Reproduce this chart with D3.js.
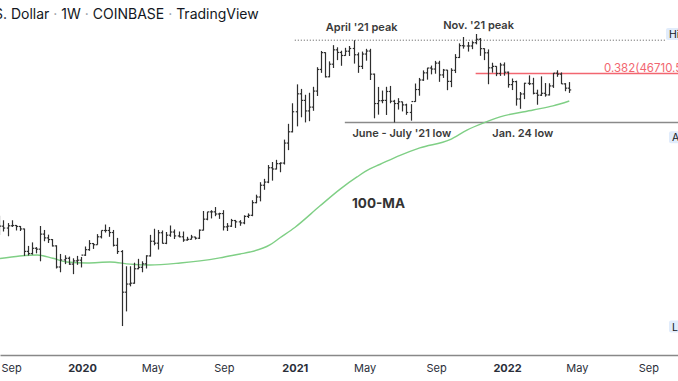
<!DOCTYPE html>
<html><head><meta charset="utf-8">
<script src="https://cdn.jsdelivr.net/npm/d3@7"></script>
<style>html,body{margin:0;padding:0;background:#fff;overflow:hidden}</style>
</head><body>
<svg id="c" width="678" height="381"></svg>
<script>
// ---------- data ----------
const firstWeek = "2019-08-12";
const lastWeek = "2022-04-18";
const opens = [11390,10330,10140,10370,10400,10300,10050,8050,7880,8300,8230,9550,9200,9050,8500,6900,7400,7520,7100,7330,7380,
 7760,8190,8700,8600,9300,9900,9900,9700,8550,8040,5380,5830,5880,6780,6880,7120,7700,8900,8730,9680,8720,9450,9750,9380,9300,9010,9070,9280,9170,9930,11070,11900,11900,11650,11700,10260,10330,10920,10780,10670,11380,11500,13030,13780,15480,15970,18400,18170,19160,19270,23480,26250,
 32000,38200,35800,32260,33500,39250,48600,57400,45200,51200,59000,57500,55800,58200,59800,56200,50100,56600,58300,46400,34700,35700,35800,39100,35500,34700,35300,34250,31780,35400,39850,43800,47000,49300,48800,51750,46050,48300,43200,48200,54700,61500,61300,61300,63300,65500,59700,57300,49400,50100,46700,50800,
 47300,41850,43100,36300,38150,42400,42200,38400,37700,38400,37800,41300,46850,46400,42150,40400];
const highs = [11450,10950,10650,10950,10450,10350,10080,8500,8800,8400,10350,9950,9500,9100,8550,7850,7750,7650,7520,7700,7620,
 8450,9000,8750,9550,9900,10500,10250,9950,9200,8150,6950,6950,7200,7480,7300,7750,9480,10070,9950,9900,9750,10400,10000,9800,9800,9300,9480,9300,10000,12000,11900,12100,12480,11800,12100,10650,11100,10990,10960,11500,11720,13350,14100,15950,16490,18900,19480,19900,19420,24300,28400,34800,
 41950,40100,37850,38600,40950,49700,58350,57600,52650,61800,60500,58500,60200,61300,64900,57500,58000,59600,59600,46650,40900,39450,40950,41300,36000,36600,35350,34650,34500,42300,44700,48150,49400,50500,52900,52950,48850,48400,49200,56550,62900,67000,63750,64300,69000,66300,59900,59250,51950,50200,51900,52100,
 47600,44450,43500,38900,42600,45850,44750,39800,45400,42500,42400,46900,48200,47200,42450,42900];
const lows = [9460,9800,9350,10250,9900,9850,7700,7730,7800,7900,7300,8900,8750,8450,6800,6550,7100,7050,6430,7050,6870,
 7700,8100,8250,8600,9150,9700,9300,8450,7850,3850,4450,5700,5850,6750,6550,6800,7650,8550,8200,8700,8650,9300,9100,9250,8850,8950,9050,9050,9100,9900,10950,11150,11400,11100,9900,9850,10250,10150,10370,10530,11200,11400,12950,13200,14800,15800,16200,18100,17600,19000,21900,26100,
 27700,30300,28800,29150,32300,37400,47000,44900,45000,49300,53300,50400,55600,55500,51500,47000,48800,53000,43800,30000,31100,34800,31000,34800,28800,32700,32100,31050,29300,35300,37500,43400,43950,46300,46600,43000,44700,39600,40800,46900,54400,59700,58000,59400,62300,55600,53300,42000,47100,45500,45600,45700,
 40600,39650,34000,32950,36250,41650,38000,34300,37400,37150,37600,40500,45200,42100,39200,38550];
const closes = [10330,10140,10370,10400,10300,10050,8050,7880,8300,8230,9550,9200,9050,8500,6900,7400,7520,7100,7330,7380,7760,
 8190,8700,8600,9300,9900,9900,9700,8550,8040,5380,5830,5880,6780,6880,7120,7700,8900,8730,9680,8720,9450,9750,9380,9300,9010,9070,9280,9170,9930,11070,11900,11900,11650,11700,10260,10330,10920,10780,10670,11380,11500,13030,13780,15480,15970,18400,18170,19160,19270,23480,26250,32000,
 38200,35800,32260,33500,39250,48600,57400,45200,51200,59000,57500,55800,58200,59800,56200,50100,56600,58300,46400,34700,35700,35800,39100,35500,34700,35300,34250,31780,35400,39850,43800,47000,49300,48800,51750,46050,48300,43200,48200,54700,61500,61300,61300,63300,65500,59700,57300,49400,50100,46700,50800,47300,
 41850,43100,36300,38150,42400,42200,38400,37700,38400,37800,41300,46850,46400,42150,40400,39700];

// 100-week moving average
const maDates = ["2019-08-13","2019-09-16","2019-10-16","2019-11-12","2019-12-06","2020-01-10","2020-02-18","2020-03-24","2020-04-27","2020-06-18","2020-07-22","2020-08-25","2020-09-29","2020-10-16","2020-11-19","2020-12-06","2021-01-01","2021-02-13","2021-03-20","2021-04-18","2021-05-10","2021-05-27","2021-07-01","2021-08-04","2021-09-25","2021-10-24","2021-11-24","2021-12-20","2022-02-15","2022-03-21","2022-04-18"];
const maValues = [7500,7690,7770,7520,7250,7180,7250,7100,7040,7180,7330,7550,7850,8000,8580,9190,10200,12600,14900,16800,18180,19000,20800,22400,24300,26700,28800,30400,32570,33900,35600];

const tickDates = ["2019-09-01","2020-01-01","2020-05-01","2020-09-01","2021-01-01","2021-05-01","2021-09-01","2022-01-01","2022-05-01","2022-09-01"];
const tickLabels = ["Sep","2020","May","Sep","2021","May","Sep","2022","May","Sep"];

const aprilPeak = 64900, novPeakDate = "2021-11-08", summerLow = 28800, fibLevel = 46710.52;
const annoTexts = ["April '21 peak","Nov. '21 peak","June - July '21 low","Jan. 24 low"];
const annoDates = ["2021-04-26","2021-11-13","2021-07-04","2022-01-28"];
const annoPrices = [71076,72495,25054,25054];
const maLabel = "100-MA", maLabelDate = "2021-05-25", maLabelPrice = 12368;
const sideLabels = ["High","Avg","Low"];
const sidePrices = [69000,24900,3830];

// ---------- drawing ----------
const W = 678, H = 381;
const svg = d3.select("#c");
const pd = d3.utcParse("%Y-%m-%d");
const x = d3.scaleUtc().domain([pd("2019-08-13"), pd("2022-10-22")]).range([0, W]);
const y = d3.scaleLog().domain([2892, 96550]).range([355, 0]);
const weeks = d3.utcMonday.range(pd(firstWeek), d3.utcDay.offset(pd(lastWeek), 1));
const bars = weeks.map((d, i) => ({d, o: opens[i], h: highs[i], l: lows[i], c: closes[i]}));

const font = "Inter, 'Noto Sans', sans-serif";

// reference lines
svg.append("line").attr("x1", x(pd("2021-01-01"))).attr("x2", 665)
  .attr("y1", y(aprilPeak)).attr("y2", y(aprilPeak))
  .attr("stroke", "#555").attr("stroke-width", 1).attr("stroke-dasharray", "1,2");
svg.append("line").attr("x1", x(pd("2021-03-28"))).attr("x2", W)
  .attr("y1", y(summerLow)).attr("y2", y(summerLow))
  .attr("stroke", "#8a8a8a").attr("stroke-width", 1.5);
svg.append("line").attr("x1", x(pd(novPeakDate))).attr("x2", W)
  .attr("y1", y(fibLevel)).attr("y2", y(fibLevel))
  .attr("stroke", "#f26670").attr("stroke-width", 1.3);

// moving average
svg.append("path")
  .datum(maDates.map((d, i) => [pd(d), maValues[i]]))
  .attr("fill", "none").attr("stroke", "#7fcf85").attr("stroke-width", 1.4)
  .attr("d", d3.line().x(d => x(d[0])).y(d => y(d[1])).curve(d3.curveMonotoneX));

// OHLC bars
const g = svg.append("g").attr("stroke", "#2e2e2e").attr("stroke-width", 1.2);
const tk = 1.7;
bars.forEach(b => {
  const cx = Math.round(x(b.d)) + 0.5;
  g.append("line").attr("x1", cx).attr("x2", cx).attr("y1", y(b.h)).attr("y2", y(b.l));
  g.append("line").attr("x1", cx - tk).attr("x2", cx).attr("y1", y(b.o)).attr("y2", y(b.o));
  g.append("line").attr("x1", cx).attr("x2", cx + tk).attr("y1", y(b.c)).attr("y2", y(b.c));
});

// annotations
annoTexts.forEach((t, i) => {
  svg.append("text").attr("x", x(pd(annoDates[i]))).attr("y", y(annoPrices[i]))
    .attr("text-anchor", "middle").attr("font-family", font).attr("font-size", 11)
    .attr("font-weight", 600).attr("fill", "#3a3a3a").text(t);
});
svg.append("text").attr("x", x(pd(maLabelDate))).attr("y", y(maLabelPrice))
  .attr("text-anchor", "middle").attr("font-family", font).attr("font-size", 13.5)
  .attr("font-weight", 700).attr("fill", "#333").text(maLabel);

// fib label
svg.append("text").attr("x", 604).attr("y", y(fibLevel) - 1.5)
  .attr("font-family", font).attr("font-size", 11.5).attr("fill", "#f26670")
  .text("0.382(" + fibLevel.toFixed(2) + ")");

// side price labels (cut by right edge, as in the reference)
sideLabels.forEach((t, i) => {
  const yy = y(sidePrices[i]);
  const x0 = i === 0 ? 666 : 669;
  const gx = svg.append("g");
  gx.append("rect").attr("x", x0).attr("y", yy - 6).attr("width", 40).attr("height", 12)
    .attr("rx", 2).attr("fill", "#e1ecfb");
  gx.append("text").attr("x", x0 + 3).attr("y", yy + 4)
    .attr("font-family", font).attr("font-size", 10.5).attr("fill", "#131722").text(t);
});

// x axis
const ax = svg.append("g").attr("transform", "translate(0,355)")
  .call(d3.axisBottom(x).tickValues(tickDates.map(pd)).tickFormat((d, i) => tickLabels[i]).tickSize(0).tickPadding(9).tickSizeOuter(0));
ax.select(".domain").attr("stroke", "#888").attr("stroke-width", 1.5);
ax.selectAll("text").attr("font-family", font).attr("font-size", 11).attr("fill", "#2a2e39")
  .attr("font-weight", (d, i) => /^\d/.test(tickLabels[i]) ? 700 : 400);

// header
const hdr = svg.append("text").attr("y", 19).attr("font-family", font).attr("font-size", 14).attr("fill", "#131722");
const pre = hdr.append("tspan").text("Bitcoin / U.S");
const preLen = pre.node().getComputedTextLength();
hdr.append("tspan").text(". Dollar ");
hdr.append("tspan").attr("fill", "#9598a1").text("·");
hdr.append("tspan").text(" 1W ");
hdr.append("tspan").attr("fill", "#9598a1").text("·");
hdr.append("tspan").text(" COINBASE ");
hdr.append("tspan").attr("fill", "#9598a1").text("·");
hdr.append("tspan").text(" TradingView");
hdr.attr("x", 3 - preLen);
</script>
</body></html>
